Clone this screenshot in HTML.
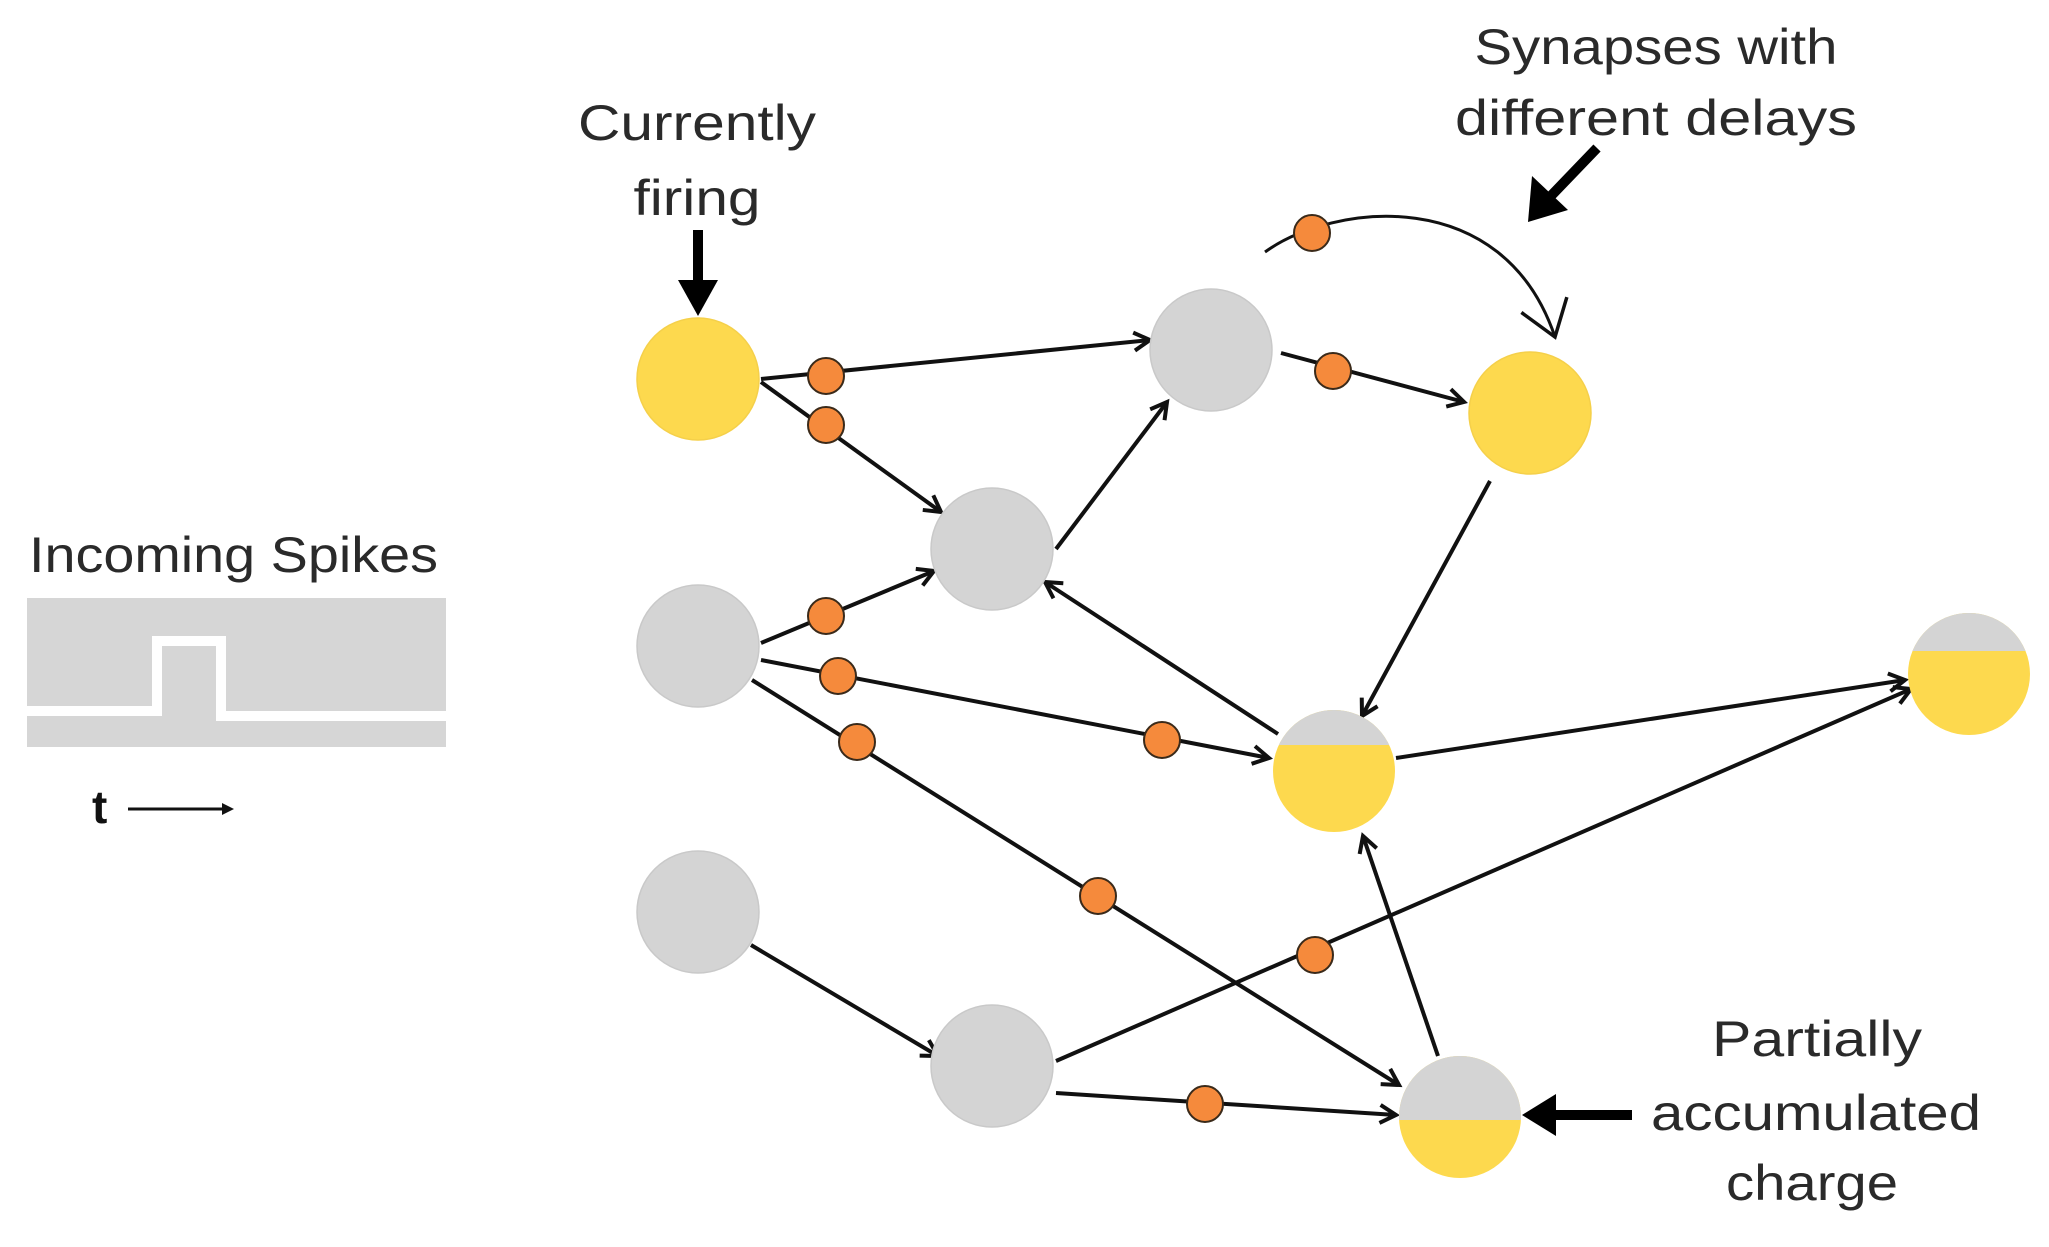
<!DOCTYPE html>
<html><head><meta charset="utf-8"><style>html,body{margin:0;padding:0;background:#fff}svg{display:block}</style></head>
<body>
<svg width="2049" height="1247" viewBox="0 0 2049 1247" xmlns="http://www.w3.org/2000/svg">
<defs>
<marker id="ah" markerWidth="24" markerHeight="24" refX="20" refY="12" orient="auto" markerUnits="userSpaceOnUse">
<path d="M4,3 L20,12 L4,21" fill="none" stroke="#111" stroke-width="4"/>
</marker>
<marker id="ah2" markerWidth="50" markerHeight="60" refX="40" refY="30" orient="auto" markerUnits="userSpaceOnUse">
<path d="M6,6 L40,30 L6,54" fill="none" stroke="#111" stroke-width="3.5"/>
</marker>
</defs>
<g font-family="Liberation Sans, sans-serif" fill="#2a2a2a" font-size="50">
<text x="697" y="140" text-anchor="middle" textLength="238" lengthAdjust="spacingAndGlyphs">Currently</text>
<text x="697" y="215" text-anchor="middle" textLength="127" lengthAdjust="spacingAndGlyphs">firing</text>
<text x="1656" y="64" text-anchor="middle" textLength="363" lengthAdjust="spacingAndGlyphs">Synapses with</text>
<text x="1656" y="135" text-anchor="middle" textLength="402" lengthAdjust="spacingAndGlyphs">different delays</text>
<text x="29" y="572" textLength="409" lengthAdjust="spacingAndGlyphs">Incoming Spikes</text>
<text x="1817" y="1056" text-anchor="middle" textLength="210" lengthAdjust="spacingAndGlyphs">Partially</text>
<text x="1816" y="1130" text-anchor="middle" textLength="330" lengthAdjust="spacingAndGlyphs">accumulated</text>
<text x="1812" y="1200" text-anchor="middle" textLength="172" lengthAdjust="spacingAndGlyphs">charge</text>
<text x="92" y="823" font-weight="bold" font-size="46" fill="#111">t</text>
</g>
<rect x="27" y="598" width="419" height="149" fill="#d6d6d6"/>
<polyline points="27,711 157,711 157,641 221,641 221,716 446,716" fill="none" stroke="#fff" stroke-width="10"/>
<line x1="128" y1="809" x2="226" y2="809" stroke="#111" stroke-width="3"/>
<path d="M222,803 L234,809 L222,815 Z" fill="#111"/>
<!-- edges -->
<g stroke="#111" stroke-width="4" fill="none" marker-end="url(#ah)">
<line x1="761" y1="379" x2="1150" y2="340"/>
<line x1="761" y1="382" x2="941" y2="512"/>
<line x1="761" y1="643" x2="934" y2="571"/>
<line x1="1056" y1="549" x2="1167" y2="402"/>
<line x1="761" y1="660" x2="1269" y2="758"/>
<line x1="752" y1="680" x2="1399" y2="1085"/>
<line x1="1278" y1="734" x2="1045" y2="582"/>
<line x1="1490" y1="481" x2="1362" y2="716"/>
<line x1="1281" y1="353" x2="1464" y2="402"/>
<line x1="1396" y1="758" x2="1905" y2="680"/>
<line x1="1056" y1="1061" x2="1911" y2="689"/>
<line x1="751" y1="945" x2="938" y2="1056"/>
<line x1="1056" y1="1093" x2="1396" y2="1115"/>
<line x1="1438" y1="1056" x2="1363" y2="836"/>
</g>
<path d="M1265,252 C1333,203 1503,183 1555,337" stroke="#111" stroke-width="3" fill="none" marker-end="url(#ah2)"/>
<!-- big arrows -->
<line x1="698" y1="230" x2="698" y2="285" stroke="#000" stroke-width="10"/>
<path d="M678,280 L718,280 L698,316 Z" fill="#000"/>
<line x1="1597" y1="148" x2="1548" y2="199" stroke="#000" stroke-width="10"/>
<path d="M1532,176 L1568,210 L1528,222 Z" fill="#000"/>
<line x1="1632" y1="1115" x2="1550" y2="1115" stroke="#000" stroke-width="10"/>
<path d="M1556,1094 L1556,1136 L1522,1115 Z" fill="#000"/>
<!-- nodes -->
<defs>
<clipPath id="cF"><circle cx="1334" cy="771" r="61"/></clipPath>
<clipPath id="cG"><circle cx="1969" cy="674" r="61"/></clipPath>
<clipPath id="cJ"><circle cx="1460" cy="1117" r="61"/></clipPath>
</defs>
<g stroke="#c9c9c9" stroke-width="1.5">
<circle cx="698" cy="379" r="61" fill="#fdd94e" stroke="#f5d04a"/>
<circle cx="1211" cy="350" r="61" fill="#d4d4d4"/>
<circle cx="1530" cy="413" r="61" fill="#fdd94e" stroke="#f5d04a"/>
<circle cx="992" cy="549" r="61" fill="#d4d4d4"/>
<circle cx="698" cy="646" r="61" fill="#d4d4d4"/>
<circle cx="698" cy="912" r="61" fill="#d4d4d4"/>
<circle cx="992" cy="1066" r="61" fill="#d4d4d4"/>
</g>
<g clip-path="url(#cF)"><rect x="1270" y="700" width="130" height="145" fill="#fdd94e"/><rect x="1270" y="700" width="130" height="45" fill="#d4d4d4"/></g>
<g clip-path="url(#cG)"><rect x="1905" y="600" width="130" height="145" fill="#fdd94e"/><rect x="1905" y="600" width="130" height="51" fill="#d4d4d4"/></g>
<g clip-path="url(#cJ)"><rect x="1396" y="1050" width="130" height="140" fill="#fdd94e"/><rect x="1396" y="1050" width="130" height="70" fill="#d4d4d4"/></g>
<!-- synapse dots -->
<g fill="#f58a3c" stroke="#3a2a1a" stroke-width="2">
<circle cx="826" cy="376" r="18"/>
<circle cx="826" cy="425" r="18"/>
<circle cx="826" cy="616" r="18"/>
<circle cx="838" cy="676" r="18"/>
<circle cx="857" cy="742" r="18"/>
<circle cx="1162" cy="740" r="18"/>
<circle cx="1333" cy="371" r="18"/>
<circle cx="1312" cy="233" r="18"/>
<circle cx="1098" cy="896" r="18"/>
<circle cx="1315" cy="955" r="18"/>
<circle cx="1205" cy="1104" r="18"/>
</g>
</svg>
</body></html>
